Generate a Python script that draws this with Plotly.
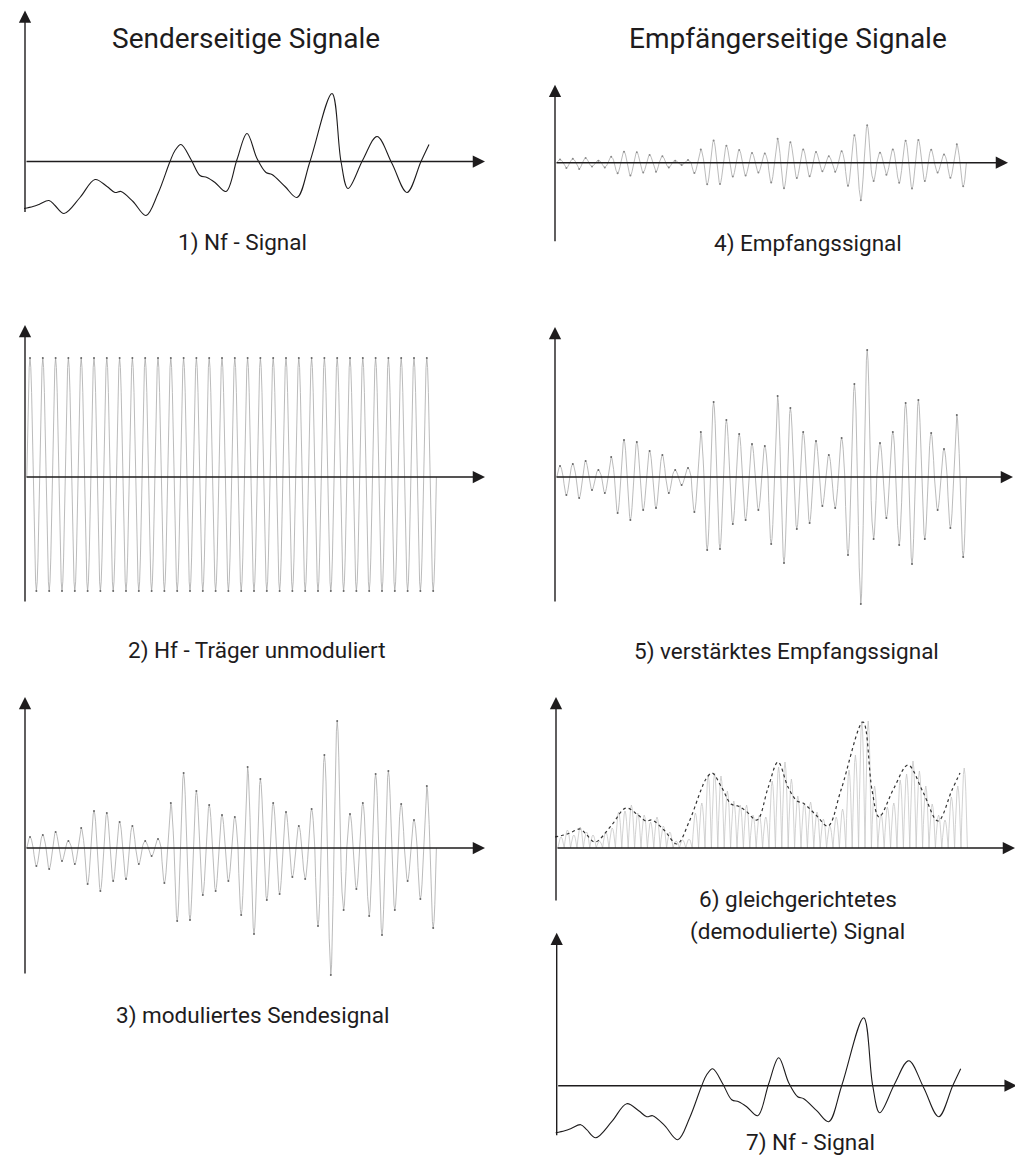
import plotly.graph_objects as go

W, H = 1023, 1157          # browser window
SHIFT = 8                  # default page margin around the plot div
FIG_W, FIG_H = W - SHIFT, H - SHIFT

NF_T = [-1, 8, 14, 24, 30, 39, 55, 70, 82, 90, 96, 108, 121, 133, 145, 150, 156, 166, 175,
        182, 190, 201, 212, 222, 232, 241, 247, 260, 272, 285, 307, 316, 323, 338, 352,
        367, 382, 396, 404]
NF_V = [-47, -45, -43, -39, -44, -52, -36, -18, -25, -31, -30, -40, -54, -32, 0, 11, 17, 2,
        -14, -16, -21, -30, 2, 28, 3, -11, -13, -25, -36, 0, 68, 0, -27, 2, 25, -2, -31, 0, 17]

# Hf carrier: one peak value per half cycle
FIRST_PEAK = 5.0
HALF_PERIOD = 6.4
HF_PEAKS = [119, -114] * 32
# shape of one carrier half cycle, relative to its peak
HALF_WAVE = [0, 0.38, 0.71, 0.92, 1.0, 0.92, 0.71, 0.38]

# modulated signal (panels 3 and 5), peak value of every half cycle
AM_PEAKS = [11, -18, 13, -21, 16, -13, 7, -16, 20, -36, 37, -43, 35, -33, 26, -31,
            22, -16, 7, -8, 9, -35, 45, -73, 75, -72, 57, -47, 43, -43, 33, -33,
            31, -67, 81, -86, 69, -52, 45, -46, 36, -29, 22, -31, 39, -78, 93, -127,
            127, -62, 34, -41, 45, -68, 74, -87, 77, -62, 44, -33, 28, -51, 62, -80]

CARRIER_LEVEL = 58      # envelope of the rectified signal sits this far above the Nf signal
RX_ATTENUATION = 3.38   # received signal (panel 4) is this much weaker than panel 5

TITLES = ["Senderseitige Signale", "Empfängerseitige Signale"]
LABELS = ["1) Nf - Signal", "2) Hf - Träger unmoduliert", "3) moduliertes Sendesignal",
          "4) Empfangssignal", "5) verstärktes Empfangssignal", "6) gleichgerichtetes",
          "(demodulierte) Signal", "7) Nf - Signal"]

INK = "#1e1c1d"
GREY = "#a9a9a9"
FONT = "Roboto"

# panel: origin x, origin y (page px), x-axis length, y-axis up, y-axis down, y scale
PANELS = {
    1: (25, 161.5, 460, 151, 52, 1),
    2: (25, 477, 460, 152, 126, 1),
    3: (25, 848, 460, 151, 127, 1),
    4: (555, 162.7, 453, 78, 80, RX_ATTENUATION),
    5: (555, 477, 458, 150, 126, 1),
    6: (556, 848, 459, 151, 54, 1),
    7: (556.7, 1085.7, 460, 153, 51, 1),
}
PAD = 6


def sfx(i):
    return "" if i == 1 else str(i)


def wave(peaks, rectify=False):
    xs, ys = [], []
    n = len(HALF_WAVE)
    for k, p in enumerate(peaks):
        a = abs(p) if rectify else p
        x0 = FIRST_PEAK + (k - 0.5) * HALF_PERIOD
        for j, f in enumerate(HALF_WAVE):
            xs.append(x0 + j * HALF_PERIOD / n)
            ys.append(a * f)
    xs.append(x0 + HALF_PERIOD)
    ys.append(0)
    return xs, ys


def tips(peaks, rectify=False):
    xs = [FIRST_PEAK + k * HALF_PERIOD for k in range(len(peaks))]
    ys = [abs(p) if rectify else p for p in peaks]
    return xs, ys


fig = go.Figure()


def add_line(i, xs, ys, color, width, dash=None, yaxis=None, shape="linear"):
    fig.add_trace(go.Scatter(
        x=xs, y=ys, mode="lines", xaxis="x" + sfx(i), yaxis=yaxis or "y" + sfx(i),
        line=dict(color=color, width=width, shape=shape, dash=dash),
        hoverinfo="skip", showlegend=False))


def add_tips(i, xs, ys, color="#666", size=2.0):
    fig.add_trace(go.Scatter(
        x=xs, y=ys, mode="markers", xaxis="x" + sfx(i), yaxis="y" + sfx(i),
        marker=dict(color=color, size=size), hoverinfo="skip", showlegend=False))


# 1) and 7) Nf signal
add_line(1, NF_T, NF_V, INK, 1.1, shape="spline")
add_line(7, NF_T, NF_V, INK, 1.1, shape="spline")

# 2) unmodulated carrier
add_line(2, *wave(HF_PEAKS), GREY, 0.8)
add_tips(2, *tips(HF_PEAKS))

# 3), 4), 5) modulated signal
for i in (3, 4, 5):
    add_line(i, *wave(AM_PEAKS), GREY, 0.8)
    add_tips(i, *tips(AM_PEAKS), color="#8a8a8a" if i == 4 else "#666")

# 6) rectified signal with its envelope
add_line(6, *wave(AM_PEAKS, rectify=True), "#c6c6c6", 0.8)
add_line(6, NF_T, NF_V, "#333", 1.2, dash="dot", yaxis="y8", shape="spline")


def px_x(p):
    return (p - SHIFT) / FIG_W


def px_y(p):
    return 1 - (p - SHIFT) / FIG_H


axes = {}
annotations = []
for i, (ox, oy, xlen, up, down, ys) in PANELS.items():
    s = sfx(i)
    left, right = max(ox - PAD, SHIFT), min(ox + xlen + PAD, SHIFT + FIG_W)
    top, bottom = max(oy - up - PAD, SHIFT), min(oy + down + PAD, SHIFT + FIG_H)
    axes["xaxis" + s] = dict(domain=[px_x(left), px_x(right)],
                             range=[left - ox, right - ox], visible=False, anchor="y" + s)
    axes["yaxis" + s] = dict(domain=[px_y(bottom), px_y(top)],
                             range=[(oy - bottom) * ys, (oy - top) * ys],
                             visible=False, anchor="x" + s)
    arrow = dict(xref="x" + s, yref="y" + s, axref="x" + s, ayref="y" + s, text="",
                 showarrow=True, arrowhead=2, arrowsize=1.75, arrowwidth=1.4,
                 arrowcolor=INK)
    annotations.append(dict(arrow, x=xlen, y=0, ax=0, ay=0))
    annotations.append(dict(arrow, x=0, y=up * ys, ax=0, ay=-down * ys))

r6 = axes["yaxis6"]["range"]
axes["yaxis8"] = dict(domain=axes["yaxis6"]["domain"], overlaying="y6", anchor="x6",
                      range=[r6[0] - CARRIER_LEVEL, r6[1] - CARRIER_LEVEL], visible=False)

# text: (x centre, y centre) in page px
title_pos = [(246, 39), (788, 38)]
label_pos = [(242, 242), (257, 650), (252.5, 1015), (808, 243.5), (786, 651.5),
             (798, 899), (797, 931), (810, 1142.5)]
for t, (x, y) in zip(TITLES, title_pos):
    annotations.append(dict(text=t, x=px_x(x), y=px_y(y), xref="paper", yref="paper",
                            showarrow=False, xanchor="center", yanchor="middle",
                            font=dict(family=FONT, size=28, color=INK)))
for t, (x, y) in zip(LABELS, label_pos):
    annotations.append(dict(text=t, x=px_x(x), y=px_y(y), xref="paper", yref="paper",
                            showarrow=False, xanchor="center", yanchor="middle",
                            font=dict(family=FONT, size=22.5, color=INK)))

fig.update_layout(
    width=FIG_W, height=FIG_H,
    margin=dict(l=0, r=0, t=0, b=0),
    paper_bgcolor="white", plot_bgcolor="rgba(0,0,0,0)",
    annotations=annotations,
    **axes,
)

fig.write_html("out.html")
